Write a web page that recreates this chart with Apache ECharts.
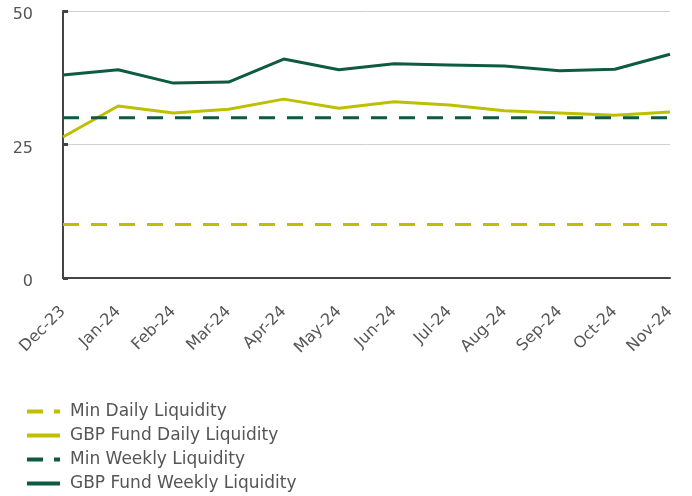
<!DOCTYPE html>
<html><head><meta charset="utf-8">
<script src="https://cdn.jsdelivr.net/npm/echarts@6/dist/echarts.min.js"></script>
<style>html,body{margin:0;padding:0;background:#fff}#c{width:692px;height:496px}</style>
</head><body><div id="c"></div>
<script>
const categories = ['Dec-23','Jan-24','Feb-24','Mar-24','Apr-24','May-24','Jun-24','Jul-24','Aug-24','Sep-24','Oct-24','Nov-24'];
const minDaily = [10,10,10,10,10,10,10,10,10,10,10,10];
const fundDaily = [26.4,32.2,30.9,31.6,33.5,31.8,33.0,32.4,31.3,30.9,30.5,31.1];
const minWeekly = [30,30,30,30,30,30,30,30,30,30,30,30];
const fundWeekly = [38.0,39.0,36.5,36.7,41.0,39.0,40.1,39.9,39.7,38.8,39.1,41.9];
const yTicks = [0,25,50];

const lime = '#bdbf00', green = '#0f5a42';
const font = '"DejaVu Sans", "Noto Sans", sans-serif';
const solidIcon = 'path://M0,0H33V4H0Z';
const dashIcon = 'path://M0,0H16V4H0Z M27,0H33V4H27Z';
const chart = echarts.init(document.getElementById('c'));
function s(name, data, color, dashed) {
  return {name, type:'line', data, symbol:'none', showSymbol:false, symbolKeepAspect:false,
    lineStyle:{color, width:3, type: dashed ? [16,12] : 'solid'},
    itemStyle:{color}, emphasis:{disabled:true}};
}
chart.setOption({
  animation:false,
  grid:{left:63, right:22, top:11, bottom:218},
  xAxis:{type:'category', data:categories, boundaryGap:false,
    axisLine:{lineStyle:{color:'#444', width:2}}, axisTick:{show:false},
    axisLabel:{rotate:45, color:'#555', fontSize:16, fontFamily:font, margin:31}},
  yAxis:{type:'value', min:0, max:50, interval:25,
    axisLine:{show:true, lineStyle:{color:'#444', width:2}},
    axisTick:{show:true, inside:true, length:5, lineStyle:{color:'#444', width:3}},
    splitLine:{lineStyle:{color:'#d0d0d0', width:1}},
    axisLabel:{color:'#555', fontSize:16, fontFamily:font, margin:30,
      formatter: v => yTicks.includes(v) ? '{a|' + v + '}' : '',
      rich:{a:{color:'#555', fontSize:16, fontFamily:font, padding:[8,0,0,0]}}}},
  legend:{orient:'vertical', left:27, top:403, padding:0, height:120, itemGap:7, itemWidth:33, itemHeight:4,
    itemStyle:{borderWidth:0}, lineStyle:{width:0},
    textStyle:{color:'#555', fontSize:17, fontFamily:font, lineHeight:17, padding:[0,0,0,5]},
    data:[
      {name:'Min Daily Liquidity', icon:dashIcon},
      {name:'GBP Fund Daily Liquidity', icon:solidIcon},
      {name:'Min Weekly Liquidity', icon:dashIcon},
      {name:'GBP Fund Weekly Liquidity', icon:solidIcon}
    ]},
  series:[
    s('Min Daily Liquidity', minDaily, lime, true),
    s('GBP Fund Daily Liquidity', fundDaily, lime, false),
    s('Min Weekly Liquidity', minWeekly, green, true),
    s('GBP Fund Weekly Liquidity', fundWeekly, green, false)
  ]
});
</script></body></html>
